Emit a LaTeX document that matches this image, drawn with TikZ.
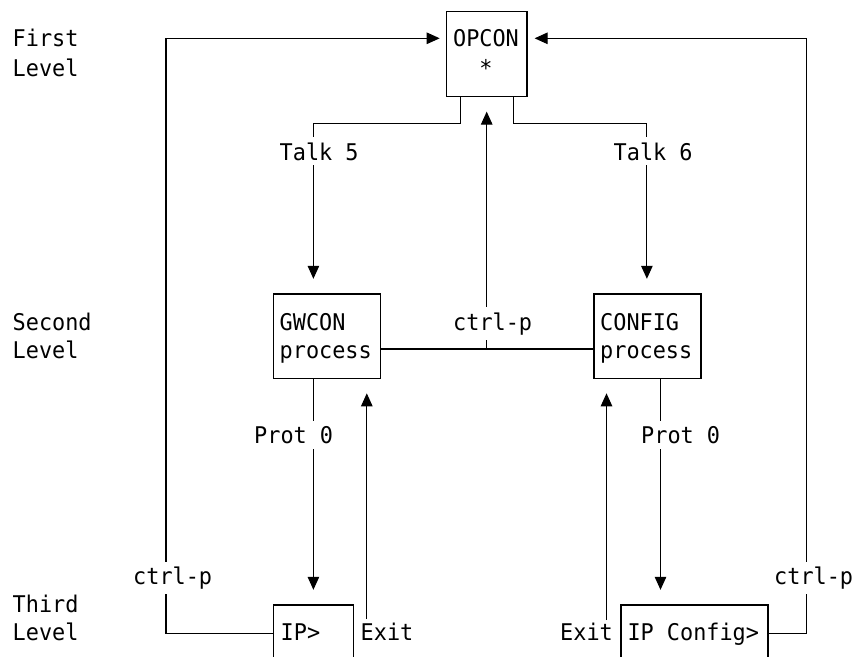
\documentclass[tikz,border=0pt]{standalone}
\usepackage{fontspec}
\newfontfamily\diagfont[FakeStretch=0.95]{DejaVu Sans Mono}
\usetikzlibrary{arrows.meta}
\tikzset{
  box/.style={draw, line width=1.6pt, inner sep=0pt, anchor=north west},
  txt/.style={inner sep=0pt, anchor=base west},
  ctxt/.style={inner sep=0pt, anchor=base},
  lbl/.style={fill=white, inner xsep=2pt, inner ysep=5pt, anchor=base west},
  conn/.style={line width=1.1pt},
  arr/.style={conn, -{Triangle[length=13pt,width=11.5pt]}}
}
\begin{document}
\begin{tikzpicture}[x=1pt,y=-1pt,font=\diagfont\fontsize{23}{30}\selectfont]
\useasboundingbox (0,0) rectangle (853,656);
\clip (0,0) rectangle (853,656);
% boxes
\node[box, minimum width=80.3pt, minimum height=85pt] (opcon) at (445.7,10.7) {};
\node[box, minimum width=107.3pt, minimum height=84.4pt] (gwcon) at (272.5,293.3) {};
\node[box, minimum width=107.3pt, minimum height=84.4pt] (config) at (593,293.3) {};
\node[box, minimum width=80pt, minimum height=56.8pt] (ipl) at (272.7,604.3) {};
\node[box, minimum width=147.1pt, minimum height=56.8pt] (ipc) at (620.2,604.3) {};
% helper coordinates
\coordinate (lt) at (166,38.3);
\coordinate (rt) at (806.5,38.3);
\coordinate (ta) at (460.5,123.3);
\coordinate (tb) at (313.4,123.3);
\coordinate (tc) at (513.4,123.3);
\coordinate (td) at (646.9,123.3);
\coordinate (m) at (486.7,349);
\coordinate (pr) at (660.5,500);
\coordinate (e1) at (366.8,619);
\coordinate (e2) at (606.5,620);
% connectors
\draw[arr, shorten >=6pt] (ipl.west) -| (lt) -- (lt -| opcon.west);
\draw[arr, shorten >=7pt] (ipc.east) -| (rt) -- (rt -| opcon.east);
\draw[arr, shorten >=14.5pt] (ta |- opcon.south) -- (ta) -- (tb) -- (tb |- gwcon.north);
\draw[arr, shorten >=14.5pt] (tc |- opcon.south) -- (tc) -- (td) -- (td |- config.north);
\draw[conn] (m -| gwcon.east) -- (m -| config.west);
\draw[arr, shorten >=14.3pt] (m) -- (m |- opcon.south);
\draw[arr, shorten >=14.5pt] (tb |- gwcon.south) -- (tb |- ipl.north);
\draw[arr, shorten >=14.5pt] (pr |- config.south) -- (pr |- ipc.north);
\draw[arr, shorten >=14pt] (e1) -- (e1 |- gwcon.south);
\draw[arr, shorten >=14pt] (e2) -- (e2 |- config.south);
% level labels
\node[txt] (l1a) at (12.5,46.7) {First};
\node[txt] (l1b) at (12.5,76.7) {Level};
\node[txt] (l2a) at (12.5,330) {Second};
\node[txt] (l2b) at (12.5,358.3) {Level};
\node[txt] (l3a) at (12.5,612.3) {Third};
\node[txt] (l3b) at (12.5,640.7) {Level};
% box texts
\node[ctxt] (opt1) at (486,46.7) {OPCON};
\node[ctxt] (opt2) at (486,76.7) {*};
\node[txt] (gw1) at (279.5,330) {GWCON};
\node[txt] (gw2) at (279.5,358.3) {process};
\node[txt] (cf1) at (600,330) {CONFIG};
\node[txt] (cf2) at (600,358.3) {process};
\node[txt] (ipt) at (280.5,640) {IP>};
\node[txt] (ipct) at (627.3,640) {IP Config>};
% connector labels
\node[lbl] (talk5) at (277.5,160) {Talk 5};
\node[lbl] (talk6) at (611.5,160) {Talk 6};
\node[lbl] (cpm) at (451,330) {ctrl-p};
\node[lbl] (prot1) at (252,443.3) {Prot 0};
\node[lbl] (prot2) at (639,443.3) {Prot 0};
\node[lbl] (cpl) at (131,584.3) {ctrl-p};
\node[lbl] (cpr) at (772,584.3) {ctrl-p};
\node[txt] (exl) at (360.5,640) {Exit};
\node[txt] (exr) at (560,640) {Exit};
\end{tikzpicture}
\end{document}
